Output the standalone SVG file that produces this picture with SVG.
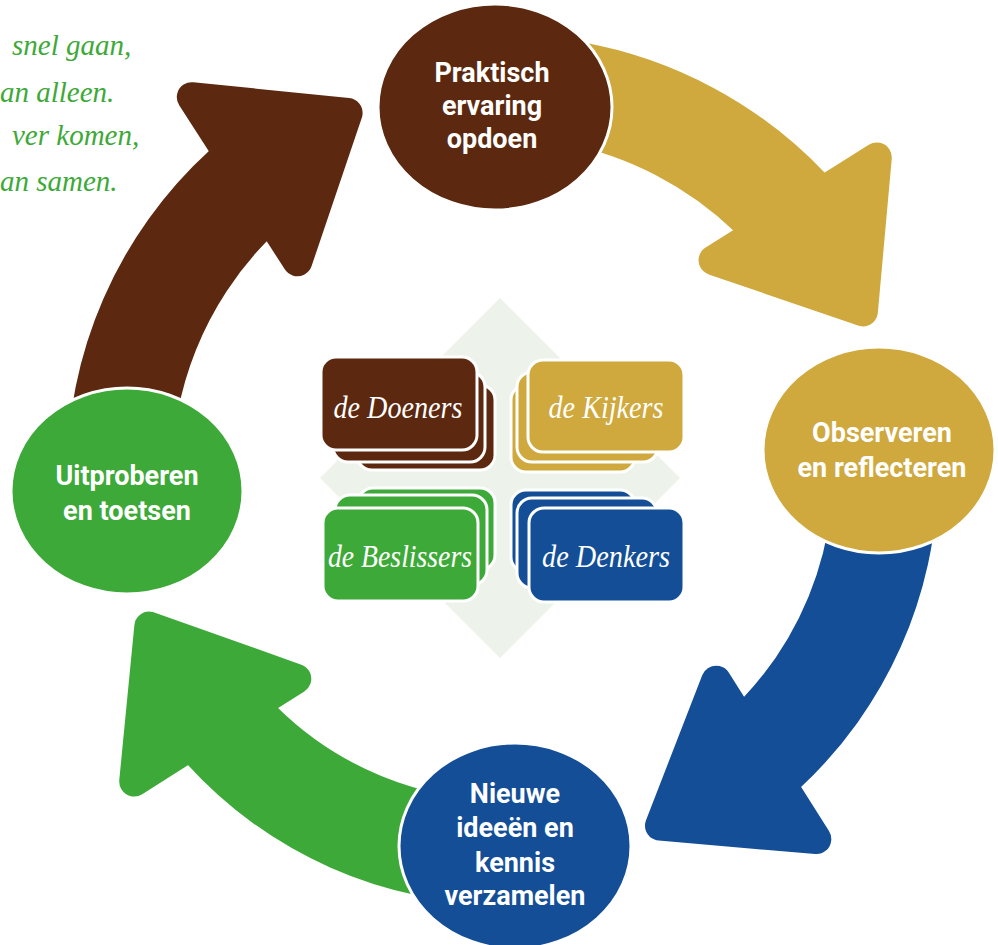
<svg xmlns="http://www.w3.org/2000/svg" width="998" height="945" viewBox="0 0 998 945">
<style>
.brown{fill:#5C2910}
.gold{fill:#CFA93D}
.blue{fill:#134E97}
.green{fill:#3DA938}
.head{stroke-width:30;stroke-linejoin:round}
.hb{stroke:#5C2910}.hg{stroke:#CFA93D}.hbl{stroke:#134E97}.hgr{stroke:#3DA938}
.node{stroke:#fff;stroke-width:3}
.card{stroke:#fff;stroke-width:3}
.nt{font-family:Roboto,"Liberation Sans",sans-serif;font-weight:700;font-size:27px;fill:#fff;text-anchor:middle}
.ct{font-family:"Liberation Serif",serif;font-style:italic;font-size:31px;fill:#fff;text-anchor:middle}
.qt{font-family:"Liberation Serif",serif;font-style:italic;font-size:29px;fill:#3DA938}
</style>
<rect width="998" height="945" fill="#fff"/>
<g id="quote">
<text class="qt" x="12" y="55">snel gaan,</text>
<text class="qt" x="0" y="102">an alleen.</text>
<text class="qt" x="12" y="145">ver komen,</text>
<text class="qt" x="0" y="191">an samen.</text>
</g>
<polygon id="diamond" points="500,298 680,478 500,658 320,478" fill="#EDF2EA"/>
<g id="connectors">
<g id="arrow-gold">
<path class="gold" d="M581,42 A443 443 0 0 1 825,173 L735,232 A340 340 0 0 0 563,143 Z"/>
<polygon class="gold head hg" points="876.8,157.5 862.9,311.4 713.6,260.2"/>
</g>
<g id="arrow-blue">
<path class="blue" d="M938,478 A432 432 0 0 1 800,788 L743,698 A328 328 0 0 0 833,478 Z"/>
<polygon class="blue head hbl" points="716.2,680.7 660,825.6 816.3,839.1"/>
</g>
<g id="arrow-green">
<path class="green" d="M504,904 A426 426 0 0 1 187,764 L277,707 A322 322 0 0 0 504,800 Z"/>
<polygon class="green head hgr" points="149.3,626.6 296.3,678.8 134.2,781.5"/>
</g>
<g id="arrow-brown">
<path class="brown" d="M67,478 A437 437 0 0 1 210,150 L268,240 A333 333 0 0 0 172,478 Z"/>
<polygon class="brown head hb" points="191.8,97.2 347.6,112.9 297.4,261.2"/>
</g>
</g>
<g id="node-praktisch">
<ellipse class="node brown" cx="495" cy="107" rx="117" ry="103"/>
<text class="nt" x="492" y="82">Praktisch</text>
<text class="nt" x="492" y="115">ervaring</text>
<text class="nt" x="492" y="148">opdoen</text>
</g>
<g id="node-observeren">
<ellipse class="node gold" cx="879" cy="450" rx="116" ry="103"/>
<text class="nt" x="882" y="442">Observeren</text>
<text class="nt" x="882" y="477">en reflecteren</text>
</g>
<g id="node-nieuwe">
<ellipse class="node blue" cx="515" cy="846" rx="116" ry="103"/>
<text class="nt" x="515" y="803">Nieuwe</text>
<text class="nt" x="515" y="837">ideeën en</text>
<text class="nt" x="515" y="872">kennis</text>
<text class="nt" x="515" y="905">verzamelen</text>
</g>
<g id="node-uitproberen">
<ellipse class="node green" cx="127" cy="491" rx="116" ry="103"/>
<text class="nt" x="127" y="485">Uitproberen</text>
<text class="nt" x="127" y="520">en toetsen</text>
</g>
<g id="card-doeners">
<rect class="card brown" x="357" y="385" width="138" height="85" rx="15"/>
<rect class="card brown" x="333" y="372" width="152" height="90" rx="15"/>
<rect class="card brown" x="321" y="357" width="156" height="93" rx="15"/>
<text class="ct" x="398" y="418" textLength="129" lengthAdjust="spacingAndGlyphs">de Doeners</text>
</g>
<g id="card-kijkers">
<rect class="card gold" x="511" y="385" width="124" height="87" rx="15"/>
<rect class="card gold" x="517" y="372" width="141" height="90" rx="15"/>
<rect class="card gold" x="528" y="360" width="156" height="92" rx="15"/>
<text class="ct" x="606" y="418" textLength="115" lengthAdjust="spacingAndGlyphs">de Kijkers</text>
</g>
<g id="card-beslissers">
<rect class="card green" x="358" y="488" width="137" height="82" rx="15"/>
<rect class="card green" x="335" y="495" width="152" height="90" rx="15"/>
<rect class="card green" x="323" y="508" width="155" height="93" rx="15"/>
<text class="ct" x="400" y="567" textLength="144" lengthAdjust="spacingAndGlyphs">de Beslissers</text>
</g>
<g id="card-denkers">
<rect class="card blue" x="511" y="490" width="124" height="82" rx="15"/>
<rect class="card blue" x="517" y="498" width="140" height="90" rx="15"/>
<rect class="card blue" x="529" y="508" width="155" height="94" rx="15"/>
<text class="ct" x="606" y="567" textLength="128" lengthAdjust="spacingAndGlyphs">de Denkers</text>
</g>
</svg>
